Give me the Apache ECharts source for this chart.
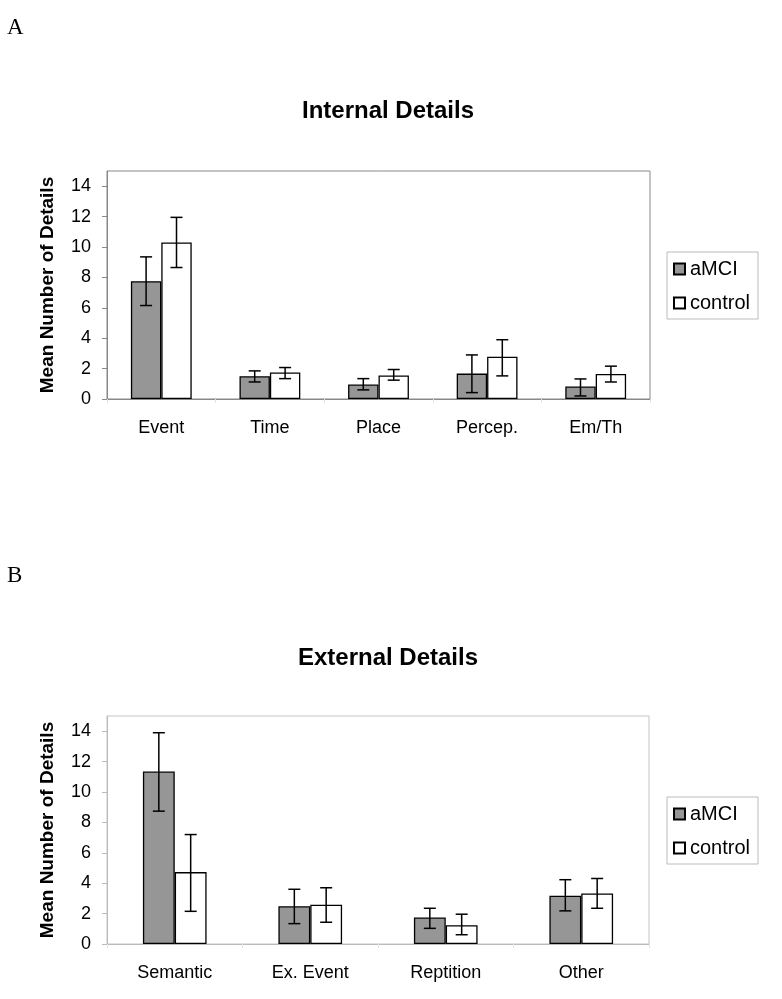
<!DOCTYPE html>
<html>
<head>
<meta charset="utf-8">
<script src="https://cdn.jsdelivr.net/npm/echarts@6/dist/echarts.min.js"></script>
<style>html,body{margin:0;padding:0;background:#fff;}#c{width:782px;height:999px;}</style>
</head>
<body>
<div id="c"></div>
<script>
// ---- data ----
var internalCats = ['Event', 'Time', 'Place', 'Percep.', 'Em/Th'];
var internalAMCI = [7.75, 1.5, 0.95, 1.67, 0.82];
var internalAMCILow = [6.15, 1.12, 0.6, 0.42, 0.2];
var internalAMCIHigh = [9.35, 1.85, 1.34, 2.9, 1.32];
var internalControl = [10.3, 1.75, 1.55, 2.78, 1.65];
var internalControlLow = [8.65, 1.34, 1.24, 1.52, 1.12];
var internalControlHigh = [11.95, 2.07, 1.94, 3.9, 2.16];

var externalCats = ['Semantic', 'Ex. Event', 'Reptition', 'Other'];
var externalAMCI = [11.35, 2.48, 1.74, 3.17];
var externalAMCILow = [8.74, 1.34, 1.03, 2.18];
var externalAMCIHigh = [13.9, 3.6, 2.35, 4.23];
var externalControl = [4.73, 2.58, 1.23, 3.32];
var externalControlLow = [2.15, 1.43, 0.61, 2.35];
var externalControlHigh = [7.2, 3.7, 1.96, 4.31];

var yTicks = [0, 2, 4, 6, 8, 10, 12, 14];
var yMax = 15;
var seriesNames = ['aMCI', 'control'];

// ---- chart ----
var FONT = 'Liberation Sans, Arial, sans-serif';
var gapA = 0.44, gapB = 0.53;

function errData(low, high) {
  return low.map(function (v, i) { return [i, v, high[i]]; });
}
function errRender(side, gap) {
  return function (params, api) {
    var x = api.value(0), lo = api.value(1), hi = api.value(2);
    var band = api.size([1, 0])[0];
    var bw = band * (1 - gap) / 2;
    var pLo = api.coord([x, lo]);
    var pHi = api.coord([x, hi]);
    var cx = pLo[0] + side * bw / 2;
    var cap = 6;
    var st = { stroke: '#000', lineWidth: 1.5 };
    return {
      type: 'group',
      children: [
        { type: 'line', shape: { x1: cx, y1: pHi[1], x2: cx, y2: pLo[1] }, style: st },
        { type: 'line', shape: { x1: cx - cap, y1: pHi[1], x2: cx + cap, y2: pHi[1] }, style: st },
        { type: 'line', shape: { x1: cx - cap, y1: pLo[1], x2: cx + cap, y2: pLo[1] }, style: st }
      ]
    };
  };
}

function yAxis(gridIndex, lineColor) {
  return {
    type: 'value', gridIndex: gridIndex, min: 0, max: yMax,
    name: 'Mean Number of Details', nameLocation: 'middle', nameGap: 50,
    nameTextStyle: { fontFamily: FONT, fontSize: 19, fontWeight: 'bold', color: '#000' },
    axisLine: { show: true, lineStyle: { color: lineColor, width: 1 } },
    axisTick: { show: true, length: 5, lineStyle: { color: lineColor }, customValues: yTicks },
    axisLabel: { fontFamily: FONT, fontSize: 18, color: '#000', margin: 16, customValues: yTicks },
    splitLine: { show: false }
  };
}
function xAxis(gridIndex, cats, lineColor) {
  return {
    type: 'category', gridIndex: gridIndex, data: cats,
    axisLine: { show: true, lineStyle: { color: lineColor, width: 1 } },
    axisTick: { show: true, length: 4, lineStyle: { color: '#e2e2e2' } },
    axisLabel: { fontFamily: FONT, fontSize: 18, color: '#000', margin: 20 },
    splitLine: { show: false }
  };
}
function bars(name, data, idx, gap, color) {
  return {
    name: name, type: 'bar', xAxisIndex: idx, yAxisIndex: idx, data: data,
    barGap: '0%', barCategoryGap: (gap * 100) + '%',
    itemStyle: { color: color, borderColor: '#000', borderWidth: 1.3 },
    emphasis: { disabled: true }, z: 2
  };
}
function errs(low, high, idx, side, gap) {
  return {
    type: 'custom', xAxisIndex: idx, yAxisIndex: idx,
    data: errData(low, high), encode: { x: 0, y: [1, 2] },
    renderItem: errRender(side, gap), z: 5, silent: true
  };
}
function legend(top) {
  return {
    orient: 'vertical', left: 667, top: top, data: seriesNames,
    padding: [7, 8, 6, 6], itemGap: 14, itemWidth: 11, itemHeight: 11, icon: 'rect',
    borderColor: '#bbb', borderWidth: 1, backgroundColor: '#fff',
    selectedMode: false,
    textStyle: { fontFamily: FONT, fontSize: 20, color: '#000', padding: [0, 0, 0, 0] }
  };
}

var chart = echarts.init(document.getElementById('c'), null, { renderer: 'canvas' });
chart.setOption({
  backgroundColor: '#fff',
  animation: false,
  title: [
    { text: 'Internal Details', left: 388, textAlign: 'center', top: 99, padding: 0,
      textStyle: { fontFamily: FONT, fontSize: 24, fontWeight: 'bold', color: '#000' } },
    { text: 'External Details', left: 388, textAlign: 'center', top: 646, padding: 0,
      textStyle: { fontFamily: FONT, fontSize: 24, fontWeight: 'bold', color: '#000' } }
  ],
  graphic: [
    { type: 'text', left: 7, top: 16, style: { text: 'A', font: '23px "Liberation Serif", "Times New Roman", serif', fill: '#000' } },
    { type: 'text', left: 7, top: 564, style: { text: 'B', font: '23px "Liberation Serif", "Times New Roman", serif', fill: '#000' } }
  ],
  legend: [legend(252), legend(797)],
  grid: [
    { left: 107, top: 171, width: 543, height: 228, show: true, borderColor: '#888', borderWidth: 1, backgroundColor: '#fff' },
    { left: 107, top: 716, width: 542, height: 228, show: true, borderColor: '#c4c4c4', borderWidth: 1, backgroundColor: '#fff' }
  ],
  xAxis: [xAxis(0, internalCats, '#888'), xAxis(1, externalCats, '#bbb')],
  yAxis: [yAxis(0, '#888'), yAxis(1, '#bbb')],
  series: [
    bars(seriesNames[0], internalAMCI, 0, gapA, '#969696'),
    bars(seriesNames[1], internalControl, 0, gapA, '#ffffff'),
    errs(internalAMCILow, internalAMCIHigh, 0, -1, gapA),
    errs(internalControlLow, internalControlHigh, 0, 1, gapA),
    bars(seriesNames[0], externalAMCI, 1, gapB, '#969696'),
    bars(seriesNames[1], externalControl, 1, gapB, '#ffffff'),
    errs(externalAMCILow, externalAMCIHigh, 1, -1, gapB),
    errs(externalControlLow, externalControlHigh, 1, 1, gapB)
  ]
});
</script>
</body>
</html>
